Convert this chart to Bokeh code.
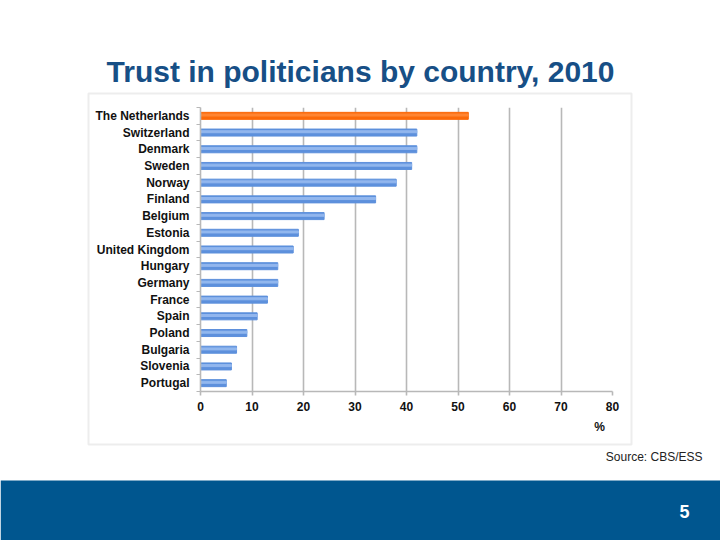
from bokeh.plotting import figure
from bokeh.models import ColumnDataSource, Label, BoxAnnotation, FixedTicker, Range1d
from bokeh.embed import file_html
from bokeh.resources import INLINE

countries = ["The Netherlands", "Switzerland", "Denmark", "Sweden", "Norway", "Finland",
             "Belgium", "Estonia", "United Kingdom", "Hungary", "Germany", "France",
             "Spain", "Poland", "Bulgaria", "Slovenia", "Portugal"]
trust = [52, 42, 42, 41, 38, 34, 24, 19, 18, 15, 15, 13, 11, 9, 7, 6, 5]
x_ticks = [0, 10, 20, 30, 40, 50, 60, 70, 80]
title_text = "Trust in politicians by country, 2010"
source_text = "Source: CBS/ESS"
page_number = "5"
unit_label = "%"

FONT = "Liberation Sans"
ORANGE = "#fb6a0a"
ORANGE_LIGHT = "#ff8533"
BLUE = "#5d90dc"
BLUE_LIGHT = "#92b7ee"
GRID = "#b8b8b8"
W, H = 720, 540

n = len(countries)
pos = [n - 1 - i for i in range(n)]
colors = [ORANGE if c == "The Netherlands" else BLUE for c in countries]
light = [ORANGE_LIGHT if c == "The Netherlands" else BLUE_LIGHT for c in countries]
src = ColumnDataSource(data=dict(country=countries, trust=trust, y=pos,
                                 y_hi=[v + 0.05 for v in pos], color=colors, light=light))

# ---------- background slide (title, box, source, footer) ----------
bg = figure(width=W, height=H, output_backend="svg", toolbar_location=None,
            x_range=Range1d(0, W), y_range=Range1d(H, 0), min_border=0)
bg.axis.visible = False
bg.grid.visible = False
bg.outline_line_color = None
bg.background_fill_color = "white"
bg.border_fill_color = "white"

def canvas_box(**kw):
    return BoxAnnotation(left_units="canvas", right_units="canvas",
                         top_units="canvas", bottom_units="canvas", **kw)

bg.add_layout(canvas_box(left=88, right=631, top=93, bottom=444,
                         fill_color=None, line_color="#c4c4c4", line_width=2))
bg.add_layout(canvas_box(left=0, right=W, top=480, bottom=H,
                         fill_color="#00568f", fill_alpha=1, line_color=None))
bg.add_layout(Label(x=360, y=71, x_units="canvas", y_units="canvas", text=title_text,
                    text_font=FONT, text_font_style="bold", text_font_size="30px",
                    text_color="#174f86", text_align="center", text_baseline="middle"))
bg.add_layout(Label(x=599, y=426, x_units="canvas", y_units="canvas", text=unit_label,
                    text_font=FONT, text_font_style="bold", text_font_size="12px",
                    text_color="#111111", text_align="center", text_baseline="middle"))
bg.add_layout(Label(x=702, y=456, x_units="canvas", y_units="canvas", text=source_text,
                    text_font=FONT, text_font_size="12px",
                    text_color="#222222", text_align="right", text_baseline="middle"))
bg.add_layout(Label(x=684, y=511, x_units="canvas", y_units="canvas", text=page_number,
                    text_font=FONT, text_font_style="bold", text_font_size="18px",
                    text_color="white", text_align="center", text_baseline="middle"))

# ---------- chart (transparent, overlaid) ----------
p = figure(width=W, height=H, output_backend="svg", toolbar_location=None,
           x_range=Range1d(0, 80), y_range=Range1d(-0.5, n - 0.5),
           min_border_left=200, min_border_right=W - 612, min_border_top=107,
           min_border_bottom=H - 391,
           styles={"position": "absolute", "top": "0px", "left": "0px"})
p.outline_line_color = None
p.background_fill_alpha = 0
p.border_fill_alpha = 0

p.hbar(y="y", right="trust", left=0, height=0.42, color="color", source=src)
p.hbar(y="y_hi", right="trust", left=0, height=0.12, color="light", source=src)

p.xgrid.ticker = FixedTicker(ticks=x_ticks)
p.xgrid.grid_line_color = GRID
p.xgrid.grid_line_width = 1.6
p.ygrid.grid_line_color = None

xa = p.xaxis[0]
xa.ticker = FixedTicker(ticks=x_ticks)
xa.axis_line_color = GRID
xa.axis_line_width = 1.6
xa.major_tick_line_color = GRID
xa.major_tick_line_width = 1.6
xa.major_tick_out = 4
xa.major_tick_in = 0
xa.minor_tick_line_color = None
xa.major_label_standoff = 6
xa.major_label_text_font = FONT
xa.major_label_text_font_style = "bold"
xa.major_label_text_font_size = "12px"
xa.major_label_text_color = "#111111"

ya = p.yaxis[0]
ya.ticker = FixedTicker(ticks=pos, minor_ticks=[k - 0.5 for k in range(n + 1)])
ya.major_label_overrides = {y: c for y, c in zip(pos, countries)}
ya.axis_line_color = GRID
ya.axis_line_width = 1.6
ya.major_tick_line_color = None
ya.major_tick_out = 0
ya.major_tick_in = 0
ya.minor_tick_line_color = GRID
ya.minor_tick_line_width = 1.2
ya.minor_tick_out = 4
ya.minor_tick_in = 0
ya.major_label_standoff = 7
ya.major_label_text_font = FONT
ya.major_label_text_font_style = "bold"
ya.major_label_text_font_size = "12px"
ya.major_label_text_color = "#111111"

open("out.html", "w").write(file_html([bg, p], INLINE))
